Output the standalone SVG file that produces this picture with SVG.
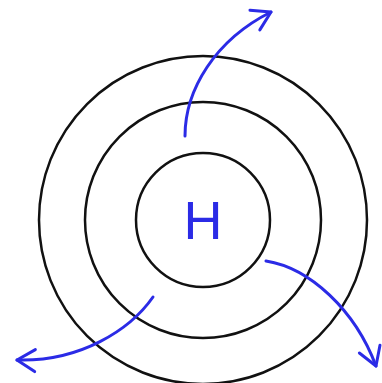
<svg xmlns="http://www.w3.org/2000/svg" width="382" height="383" viewBox="0 0 382 383">
<style>
.ring{fill:none;stroke:#111;stroke-width:2.5}
.arr{fill:none;stroke:#2b2be6;stroke-width:3;stroke-linecap:round;marker-end:url(#ah)}
.lbl{font-family:"Liberation Sans",Arial,sans-serif;font-size:54px;fill:#2b2be6;text-anchor:middle}
</style>
<defs>
<marker id="ah" markerUnits="userSpaceOnUse" markerWidth="30" markerHeight="30" viewBox="-22 -15 26 30" refX="0" refY="0" orient="auto">
<path d="M-18,-11 L0,0 L-18,11" fill="none" stroke="#2b2be6" stroke-width="3" stroke-linecap="round" stroke-linejoin="round"/>
</marker>
</defs>
<rect width="382" height="383" fill="#fff"/>
<g id="outer"><circle class="ring" cx="203" cy="220" r="164"/></g>
<g id="middle"><circle class="ring" cx="203" cy="220" r="118"/></g>
<g id="inner"><circle class="ring" cx="203" cy="220" r="67"/>
<text class="lbl" x="203" y="239">H</text></g>
<g id="connectors">
<path class="arr" d="M185,136 C185,90 215,40 271,12"/>
<path class="arr" d="M153,297 C130,330 80,362 17,360"/>
<path class="arr" d="M266,261 C310,268 355,310 376,366"/>
</g>
</svg>
